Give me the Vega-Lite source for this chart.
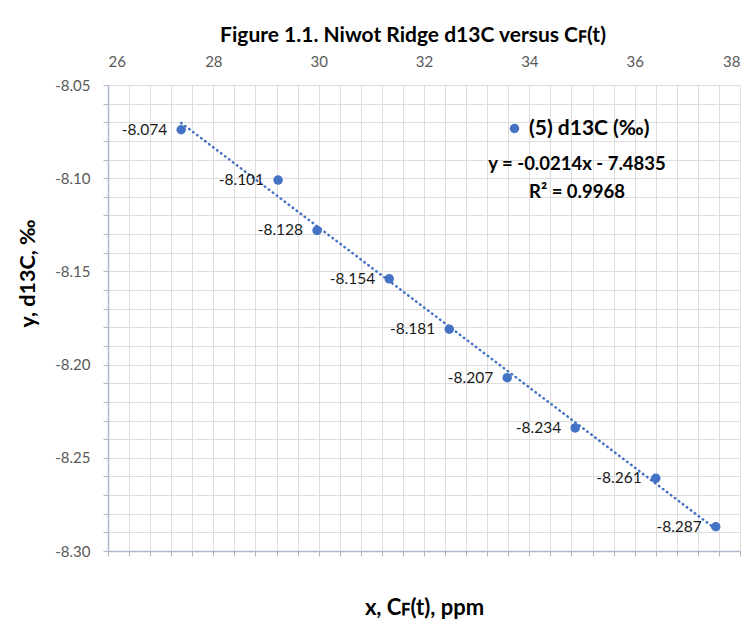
{
  "$schema": "https://vega.github.io/schema/vega-lite/v6.json",
  "autosize": "none",
  "width": 632,
  "height": 466,
  "padding": {"left": 108, "top": 85, "right": 14, "bottom": 91},
  "background": "white",
  "config": {
    "font": "Lato",
    "view": {"stroke": null},
    "locale": {"number": {"decimal": ".", "thousands": ",", "grouping": [3], "currency": ["$", ""], "minus": "-"}}
  },
  "title": {
    "text": "Figure 1.1. Niwot Ridge d13C versus Cꜰ(t)",
    "fontSize": 21,
    "fontWeight": "bold",
    "color": "#000000",
    "anchor": "middle",
    "frame": "group",
    "offset": 8,
    "dx": -11
  },
  "datasets": {
    "pts": [
      {"x": 27.39, "y": -8.074},
      {"x": 29.23, "y": -8.101},
      {"x": 29.97, "y": -8.128},
      {"x": 31.34, "y": -8.154},
      {"x": 32.48, "y": -8.181},
      {"x": 33.58, "y": -8.207},
      {"x": 34.87, "y": -8.234},
      {"x": 36.40, "y": -8.261},
      {"x": 37.54, "y": -8.287}
    ]
  },
  "data": {"name": "pts"},
  "layer": [
    {
      "mark": {"type": "point", "opacity": 0},
      "encoding": {
        "x": {
          "field": "x", "type": "quantitative",
          "scale": {"domain": [26, 38], "nice": false, "zero": false},
          "axis": {
            "orient": "bottom",
            "values": [26, 26.4, 26.8, 27.2, 27.6, 28, 28.4, 28.8, 29.2, 29.6, 30, 30.4, 30.8, 31.2, 31.6, 32, 32.4, 32.8, 33.2, 33.6, 34, 34.4, 34.8, 35.2, 35.6, 36, 36.4, 36.8, 37.2, 37.6, 38],
            "tickCount": 200,
            "grid": true,
            "labels": false,
            "ticks": true,
            "tickSize": 5,
            "tickColor": "#adb9ca",
            "domain": true,
            "domainColor": "#adb9ca",
            "domainWidth": 1.5,
            "title": "x, Cꜰ(t), ppm",
            "titleFontSize": 22,
            "titleFontWeight": "bold",
            "titleColor": "#000000",
            "titlePadding": 41,
            "encode": {
              "grid": {"update": {"stroke": {"signal": "datum.value > 37.99 ? '#4472c4' : (abs(datum.value/2 - round(datum.value/2)) < 0.01 ? '#d9d9d9' : '#eeeeee')"}, "strokeWidth": {"signal": "datum.value > 37.99 ? 1.5 : 1"}}}
            }
          }
        },
        "y": {
          "field": "y", "type": "quantitative",
          "scale": {"domain": [-8.30, -8.05], "nice": false, "zero": false},
          "axis": {
            "orient": "left",
            "values": [-8.05, -8.06, -8.07, -8.08, -8.09, -8.10, -8.11, -8.12, -8.13, -8.14, -8.15, -8.16, -8.17, -8.18, -8.19, -8.20, -8.21, -8.22, -8.23, -8.24, -8.25, -8.26, -8.27, -8.28, -8.29, -8.30],
            "tickCount": 200,
            "grid": true,
            "labelOverlap": false,
            "labelExpr": "abs(datum.value*20 - round(datum.value*20)) < 0.01 ? format(datum.value, '.2f') : ''",
            "labelFontSize": 15,
            "labelColor": "#595959",
            "labelPadding": 13,
            "ticks": true,
            "tickSize": 5,
            "tickColor": "#adb9ca",
            "domain": true,
            "domainColor": "#adb9ca",
            "domainWidth": 1.5,
            "title": "y, d13C, ‰",
            "titleFontSize": 21.5,
            "titleFontWeight": "bold",
            "titleColor": "#000000",
            "titlePadding": 15,
            "titleY": 188,
            "titleAlign": "center",
            "encode": {
              "grid": {"update": {"stroke": {"signal": "datum.value > -8.051 ? '#4472c4' : (abs(datum.value*20 - round(datum.value*20)) < 0.01 ? '#d9d9d9' : '#eeeeee')"}, "strokeWidth": {"signal": "datum.value > -8.051 ? 1.5 : 1"}}}
            }
          }
        }
      }
    },
    {
      "transform": [{"regression": "y", "on": "x"}],
      "mark": {"type": "line", "color": "#4472c4", "strokeWidth": 2.5, "strokeDash": [0.5, 4.5], "strokeCap": "round"},
      "encoding": {
        "x": {"field": "x", "type": "quantitative", "axis": null},
        "y": {"field": "y", "type": "quantitative"}
      }
    },
    {
      "mark": {"type": "circle", "size": 90, "opacity": 1},
      "encoding": {
        "x": {
          "field": "x", "type": "quantitative",
          "axis": {
            "orient": "top",
            "values": [26, 28, 30, 32, 34, 36, 38],
            "format": ".0f",
            "tickCount": 200,
            "grid": false,
            "ticks": false,
            "domain": false,
            "labelFontSize": 15,
            "labelColor": "#595959",
            "labelPadding": 16,
            "title": null
          }
        },
        "y": {"field": "y", "type": "quantitative"},
        "color": {
          "datum": "(5) d13C (‰)",
          "type": "nominal",
          "scale": {"range": ["#4472c4"]},
          "legend": {
            "orient": "none",
            "legendX": 380,
            "legendY": 33,
            "title": ["y = -0.0214x - 7.4835", "R² = 0.9968"],
            "titleOrient": "bottom",
            "titleFontSize": 18.5,
            "titleFontWeight": "bold",
            "titleColor": "#000000",
            "titleAlign": "center",
            "titleAnchor": "middle",
            "titleLineHeight": 28,
            "titlePadding": 16,
            "labelFontSize": 21,
            "labelFontWeight": "bold",
            "labelColor": "#000000",
            "symbolType": "circle",
            "symbolSize": 90,
            "symbolFillColor": "#4472c4",
            "symbolStrokeWidth": 0,
            "symbolOpacity": 1
          }
        }
      }
    },
    {
      "mark": {"type": "text", "align": "right", "baseline": "middle", "dx": -14, "fontSize": 15.5, "color": "#1a1a1a"},
      "encoding": {
        "x": {"field": "x", "type": "quantitative", "axis": null},
        "y": {"field": "y", "type": "quantitative"},
        "text": {"field": "y", "type": "quantitative", "format": ".3f"}
      }
    }
  ],
  "resolve": {"axis": {"x": "independent"}}
}
